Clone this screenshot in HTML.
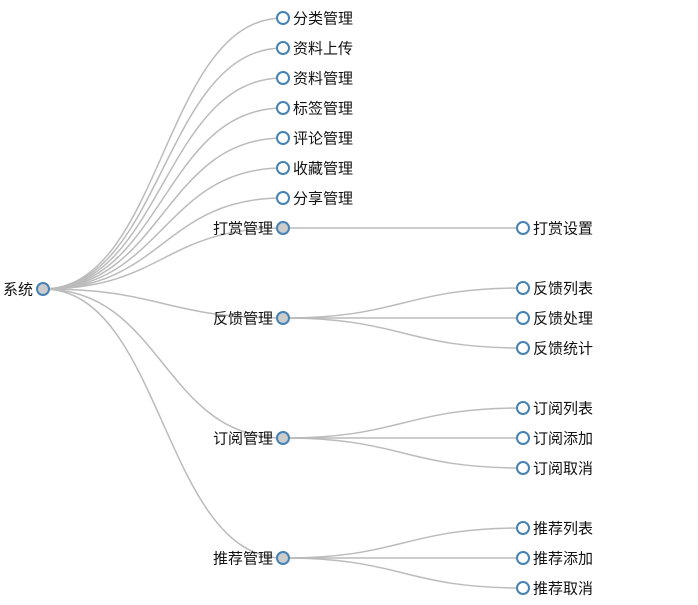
<!DOCTYPE html>
<html><head><meta charset="utf-8"><style>
html,body{margin:0;padding:0;background:#fff;}
svg{display:block;}
text{font-family:"Liberation Sans","Noto Sans CJK SC",sans-serif;font-size:15px;fill:#111;dominant-baseline:central;}
.link{fill:none;stroke:#bbb;stroke-width:1.5;}
circle{stroke:#4682b4;stroke-width:2;}
</style></head><body>
<svg id="s" width="698" height="605" xmlns="http://www.w3.org/2000/svg"></svg>
<script>
var s=document.getElementById('s');
var NS='http://www.w3.org/2000/svg';
function el(t,a,txt){var e=document.createElementNS(NS,t);for(var k in a)e.setAttribute(k,a[k]);if(txt)e.textContent=txt;s.appendChild(e);return e;}
var root={n:'系统',x:43,y:289,c:[
{n:'分类管理',y:18},{n:'资料上传',y:48},{n:'资料管理',y:78},{n:'标签管理',y:108},{n:'评论管理',y:138},{n:'收藏管理',y:168},{n:'分享管理',y:198},
{n:'打赏管理',y:228,c:[{n:'打赏设置',y:228}]},
{n:'反馈管理',y:318,c:[{n:'反馈列表',y:288},{n:'反馈处理',y:318},{n:'反馈统计',y:348}]},
{n:'订阅管理',y:438,c:[{n:'订阅列表',y:408},{n:'订阅添加',y:438},{n:'订阅取消',y:468}]},
{n:'推荐管理',y:558,c:[{n:'推荐列表',y:528},{n:'推荐添加',y:558},{n:'推荐取消',y:588}]}
]};
function link(a,b){var m=(a.x+b.x)/2;el('path',{'class':'link',d:'M'+a.x+','+a.y+'C'+m+','+a.y+' '+m+','+b.y+' '+b.x+','+b.y});}
root.c.forEach(function(c){c.x=283;link(root,c);if(c.c)c.c.forEach(function(d){d.x=523;link(c,d);});});
function draw(n){
 el('circle',{cx:n.x,cy:n.y,r:6,fill:n.c?'#ccc':'#fff'});
 if(n.c)el('text',{x:n.x-10,y:n.y+1,'text-anchor':'end'},n.n);
 else el('text',{x:n.x+10,y:n.y+1},n.n);
 if(n.c)n.c.forEach(draw);
}
draw(root);
</script>
</body></html>
